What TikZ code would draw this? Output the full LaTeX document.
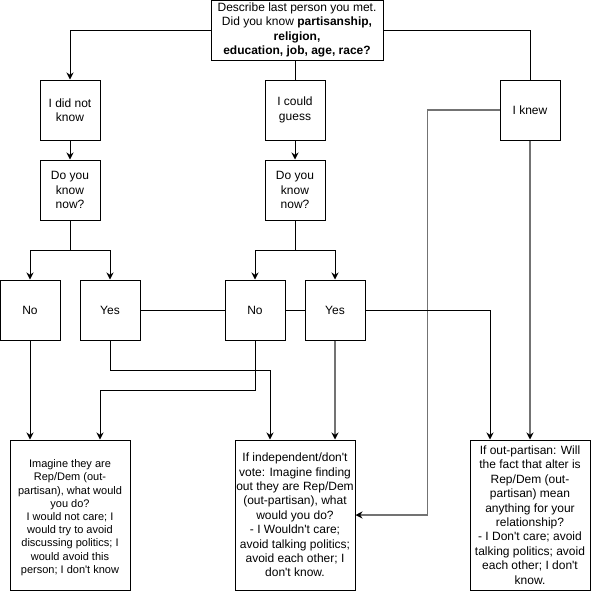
\documentclass[tikz,border=0pt]{standalone}
\usepackage{fontspec}
\setmainfont{Liberation Sans}[Ligatures=TeXOff]
\usetikzlibrary{arrows.meta, positioning, calc}

\begin{document}
\begin{tikzpicture}[x=1pt, y=-1pt, >={Stealth[length=7pt, width=7pt]}, line width=1pt,
  box/.style={draw, inner sep=0pt, align=center, minimum width=60pt, minimum height=60pt,
    font=\fontsize{12}{14.4}\selectfont},
  answer/.style={box, minimum width=120pt, minimum height=150pt},
  faint/.style={draw=black!55, line width=1.4pt, -{Stealth[length=7pt, width=7pt, color=black]}}]
  \useasboundingbox (0,0) rectangle (592,592);
  % question and first answers
  \node[box, minimum width=172pt] (top) at (297,30) {Describe last person you met.\\Did you know \textbf{partisanship,}\\\textbf{religion,}\\\textbf{education, job, age, race?}};
  \node[box] (notknow) at (70,110) {I did not\\know};
  \node[box] (guess) at (295,110) {I could\\guess};
  \node[box] (knew) at (530,110) {I knew};
  \node[box] (nowL) at (70,190) {Do you\\know\\now?};
  \node[box] (nowM) at (295,190) {Do you\\know\\now?};
  % yes / no row
  \foreach \n/\x/\t in {noL/30/No, yesL/110/Yes, noM/255/No, yesM/335/Yes}
    \node[box] (\n) at (\x,310) {\t};
  % final questions
  \node[answer, font=\fontsize{11}{13.2}\selectfont] (ansL) at (70,515) {\mbox{}\\Imagine they are\\Rep/Dem (out-\\partisan), what would\\you do?\\I would not care; I\\would try to avoid\\discussing politics; I\\would avoid this\\person; I don't know};
  \node[answer] (ansM) at (295,515) {If independent/don't\\vote: Imagine finding\\out they are Rep/Dem\\(out-partisan), what\\would you do?\\- I Wouldn't care;\\avoid talking politics;\\avoid each other; I\\don't know.};
  \node[answer] (ansR) at (530,515) {If out-partisan: Will\\the fact that alter is\\Rep/Dem (out-\\partisan) mean\\anything for your\\relationship?\\- I Don't care; avoid\\talking politics; avoid\\each other; I don't\\know.};
  % from the question
  \draw[->] (top.west) -| (notknow.north);
  \draw (top.east) -| (knew.north);
  \draw (guess.north |- top.south) -- (guess.north);
  \draw[->] (notknow) -- (nowL);
  \draw[->] (guess) -- (nowM);
  % forks
  \foreach \s/\a/\b in {nowL/noL/yesL, nowM/noM/yesM} {
    \draw[->] (\s.south) -- ++(0,30) -| (\a.north);
    \draw[->] (\s.south) -- ++(0,30) -| (\b.north);
  }
  % side links
  \draw (yesL) -- (noM);
  \draw (noM) -- (yesM);
  % down to the final questions
  \draw[->] (noL) -- (noL |- ansL.north);
  \draw[->] (noM.south) -- ++(0,50) -| ($(ansL.north)+(30,0)$);
  \draw[->] (yesL.south) -- ++(0,30) -| ($(ansM.north)+(-25,0)$);
  \draw[faint] (yesM) -- (yesM |- ansM.north);
  \draw[faint] (knew) -- (ansR);
  \draw[faint] (knew.west) -- ++(-72,0) |- (ansM.east);
  \draw[->] (yesM.east) -| ($(ansR.north)+(-40,0)$);
\end{tikzpicture}
\end{document}
